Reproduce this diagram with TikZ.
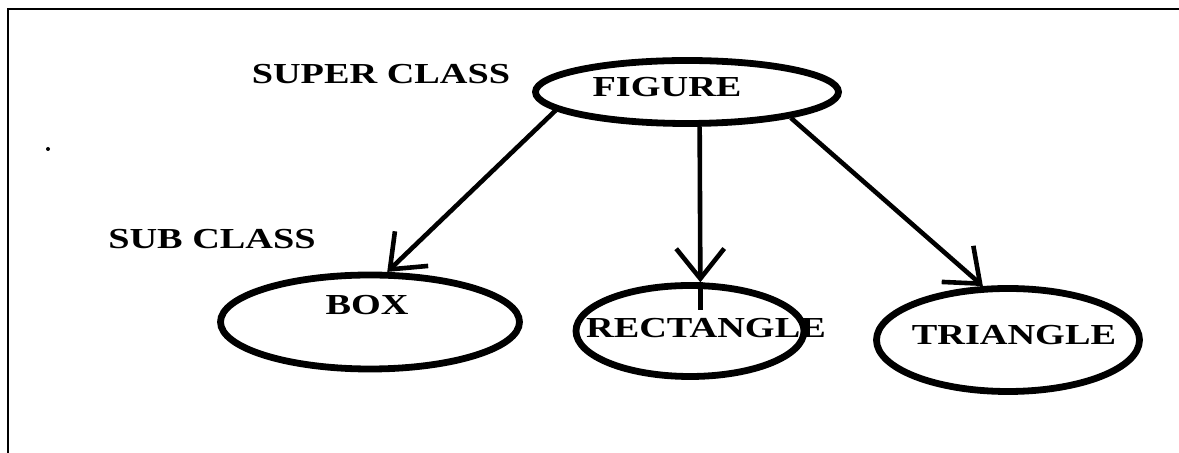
\documentclass[tikz,border=0pt]{standalone}
\usepackage{fontspec}
\setmainfont{Liberation Serif}[FakeStretch=1.32]
\usepackage{tikz}
\usetikzlibrary{shapes,arrows.meta}

\begin{document}
\begin{tikzpicture}[x=0.5pt,y=-0.5pt,
		cls/.style={ellipse,draw,line width=3.4pt,inner sep=0pt},
		txt/.style={anchor=base,inner sep=0pt,font=\fontsize{14.5pt}{17pt}\selectfont\bfseries},
		link/.style={line width=2.3pt,-{Straight Barb[length=15pt,width=24pt,line width=2.3pt]}}]
		\useasboundingbox (0,0) rectangle (1179,453);
		% frame
		\draw[line width=1.2pt] (8,453) -- (8,9) -- (1179,9);
		\fill (48,149) circle (1pt);
		% classes
		\node[cls,minimum width=151.5pt,minimum height=31.5pt] (fig) at (687,92) {};
		\node[cls,minimum width=149.5pt,minimum height=47pt] (box) at (370,322) {};
		\node[cls,minimum width=114pt,minimum height=45.5pt] (rect) at (690,331) {};
		\node[cls,minimum width=131.5pt,minimum height=51.5pt] (tri) at (1008,340) {};
		\node[txt] (figtxt) at (667,97) {FIGURE};
		\node[txt] (boxtxt) at (367,315) {BOX};
		\node[txt] (recttxt) at (706,338) {RECTANGLE};
		\node[txt] (tritxt) at (1014,345) {TRIANGLE};
		\node[txt] (super) at (381,84) {SUPER CLASS};
		\node[txt] (sub) at (212,249) {SUB CLASS};
		% inheritance arrows
		\draw[link] (fig.188) -- (box.71);
		\draw[link] (fig.290) -- (rect.78);
		\draw[line width=2.3pt] (rect.78) -- ++(0,28);
		\draw[link] (fig.346) -- (tri.115);
		%\draw[link] (fig) -- (box);
		\end{tikzpicture}
\end{document}
